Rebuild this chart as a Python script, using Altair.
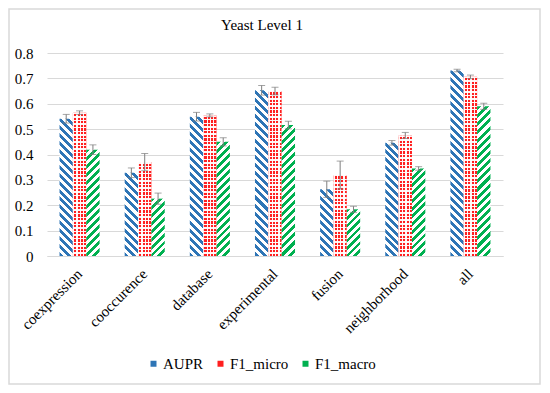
import altair as alt
import pandas as pd

categories = ["coexpression", "cooccurence", "database", "experimental", "fusion", "neighborhood", "all"]
series = ["AUPR", "F1_micro", "F1_macro"]
aupr = [0.541, 0.328, 0.549, 0.653, 0.263, 0.446, 0.731]
aupr_err = [0.017, 0.019, 0.017, 0.019, 0.032, 0.009, 0.005]
f1_micro = [0.565, 0.370, 0.554, 0.650, 0.319, 0.475, 0.706]
f1_micro_err = [0.007, 0.034, 0.006, 0.015, 0.055, 0.012, 0.007]
f1_macro = [0.419, 0.226, 0.450, 0.516, 0.184, 0.345, 0.590]
f1_macro_err = [0.019, 0.022, 0.016, 0.015, 0.012, 0.007, 0.012]

values = {"AUPR": aupr, "F1_micro": f1_micro, "F1_macro": f1_macro}
errors = {"AUPR": aupr_err, "F1_micro": f1_micro_err, "F1_macro": f1_macro_err}
colors = {"AUPR": "#2e75b6", "F1_micro": "#ff1f1f", "F1_macro": "#00b050"}

rows = []
for s in series:
    for c, v, e in zip(categories, values[s], errors[s]):
        rows.append({"cat": c, "series": s, "value": v, "lo": v - e, "hi": v + e})
df = pd.DataFrame(rows)

W, H = 456, 203
YMAX = 0.8
PAD_IN, PAD_OUT = 0.385, 0.1925
BAR_W = W / 7 * (1 - PAD_IN) / 3
FONT = "Liberation Serif"

xenc = alt.X("cat:N", sort=categories, scale=alt.Scale(paddingInner=PAD_IN, paddingOuter=PAD_OUT),
             axis=alt.Axis(title=None, labelAngle=-45, labelAlign="right", labelBaseline="middle",
                           labelFontSize=15, labelFont=FONT, labelColor="#000000", labelPadding=15,
                           ticks=False, domainColor="#d9d9d9", grid=False, labelOverlap=False))
yaxis = alt.Axis(title=None, values=[0, 0.1, 0.2, 0.3, 0.4, 0.5, 0.6, 0.7, 0.8], format=".1~f",
                 labelFontSize=15, labelFont=FONT, labelColor="#000000", labelPadding=14,
                 labelOverlap=False, ticks=False, domain=False, gridColor="#d9d9d9")
yscale = alt.Scale(domain=[0, YMAX])
yenc = alt.Y("value:Q", scale=yscale, axis=yaxis)
xoff = alt.XOffset("series:N", sort=series, scale=alt.Scale(paddingInner=0, paddingOuter=0))

base = alt.Chart(df)


def stripe_gradient(color, h, direction, period=8.0, frac=0.5):
    w = BAR_W
    n = max(1, int(round((w + h) / period)))
    stops = []
    for k in range(n):
        a = k / n
        b = (k + frac) / n
        c2 = (k + 1) / n
        stops += [alt.GradientStop(color=color, offset=a), alt.GradientStop(color=color, offset=b),
                  alt.GradientStop(color="#ffffff", offset=b), alt.GradientStop(color="#ffffff", offset=c2)]
    kk = (w + h) / (w * w + h * h)
    if direction == "back":  # "\" stripes
        x1, y1, x2, y2 = 0, 1, kk * w, 1 - kk * h
    else:  # "/" stripes
        x1, y1, x2, y2 = 0, 0, kk * w, kk * h
    return alt.LinearGradient(gradient="linear", stops=stops, x1=x1, y1=y1, x2=x2, y2=y2)


def line_gradient(h_px, axis, period=3.6, line=1.4):
    n = max(1, int(round(h_px / period)))
    stops = []
    clear = "rgba(255,255,255,0)"
    white = "rgba(255,255,255,0.95)"
    f = line / period
    for k in range(n):
        a = k / n
        b = (k + f) / n
        c2 = (k + 1) / n
        stops += [alt.GradientStop(color=white, offset=a), alt.GradientStop(color=white, offset=b),
                  alt.GradientStop(color=clear, offset=b), alt.GradientStop(color=clear, offset=c2)]
    if axis == "x":
        return alt.LinearGradient(gradient="linear", stops=stops, x1=0, y1=0, x2=1, y2=0)
    return alt.LinearGradient(gradient="linear", stops=stops, x1=0, y1=0, x2=0, y2=1)


layers = []
# invisible layer for legend and band definition
layers.append(base.mark_bar(opacity=0).encode(
    x=xenc, y=yenc, xOffset=xoff,
    color=alt.Color("series:N", sort=series,
                    scale=alt.Scale(domain=series, range=[colors[s] for s in series]),
                    legend=alt.Legend(title=None, orient="none", direction="horizontal",
                                      legendX=99, legendY=303, symbolType="square", symbolSize=36,
                                      symbolOpacity=1, symbolStrokeWidth=0,
                                      labelFont=FONT, labelFontSize=15, labelColor="#000000",
                                      columnPadding=9, symbolOffset=0, labelOffset=2))))

for s in series:
    for c, v in zip(categories, values[s]):
        h = v / YMAX * H
        sel = base.transform_filter((alt.datum.cat == c) & (alt.datum.series == s))
        enc = dict(x=xenc, y=yenc, xOffset=xoff)
        if s == "AUPR":
            layers.append(sel.mark_bar(fill=stripe_gradient(colors[s], h, "back")).encode(**enc))
        elif s == "F1_macro":
            layers.append(sel.mark_bar(fill=stripe_gradient(colors[s], h, "fwd")).encode(**enc))
        else:
            layers.append(sel.mark_bar(fill=colors[s]).encode(**enc))
            layers.append(sel.mark_bar(fill=line_gradient(BAR_W, "x")).encode(**enc))
            layers.append(sel.mark_bar(fill=line_gradient(h, "y")).encode(**enc))

err_rule = base.mark_rule(color="#7f7f7f", strokeWidth=1).encode(
    x=xenc, xOffset=xoff, y=alt.Y("lo:Q", scale=yscale, axis=yaxis), y2="hi:Q")
cap_hi = base.mark_tick(color="#7f7f7f", thickness=1, size=7, orient="horizontal").encode(
    x=xenc, xOffset=xoff, y=alt.Y("hi:Q", scale=yscale, axis=yaxis))
cap_lo = base.mark_tick(color="#7f7f7f", thickness=1, size=7, orient="horizontal").encode(
    x=xenc, xOffset=xoff, y=alt.Y("lo:Q", scale=yscale, axis=yaxis))
layers += [err_rule, cap_hi, cap_lo]

frame = alt.Chart(pd.DataFrame({"k": [0]})).mark_rect(fill=None, stroke="#d9d9d9", strokeWidth=1.5).encode(
    x=alt.value(-38), x2=alt.value(W + 37), y=alt.value(-44), y2=alt.value(H + 128))
layers.append(frame)

chart = alt.layer(*layers).properties(
    width=W, height=H,
    title=alt.Title("Yeast Level 1", font=FONT, fontSize=15, fontWeight="normal", color="#000000",
                    anchor="middle", dx=-13, offset=-25),
    autosize=alt.AutoSizeParams(type="none"),
    padding={"left": 39, "top": 45, "right": 39, "bottom": 129},
).configure_view(stroke=None).resolve_scale(color="shared")

chart.save("out.html", embed_options={"renderer": "svg", "actions": False})
